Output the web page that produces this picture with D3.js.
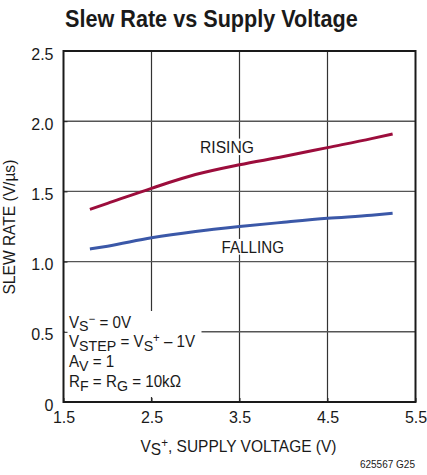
<!DOCTYPE html>
<html><head><meta charset="utf-8">
<script src="https://cdn.jsdelivr.net/npm/d3@7"></script>
<style>
html,body{margin:0;padding:0;background:#fff;}
svg{display:block;}
text{font-family:"Liberation Sans",Arial,sans-serif;fill:#1a1a1a;}
</style></head>
<body>
<svg id="c" width="427" height="475"></svg>
<script>
const voltage = [1.8, 2.0, 2.5, 3.0, 3.5, 4.0, 4.5, 5.0, 5.24];
const rising  = [1.372, 1.415, 1.522, 1.62, 1.69, 1.748, 1.812, 1.876, 1.909];
const falling = [1.09, 1.11, 1.17, 1.215, 1.25, 1.28, 1.308, 1.33, 1.344];
const xTicks = [1.5, 2.5, 3.5, 4.5, 5.5];
const yTicks = [0, 0.5, 1.0, 1.5, 2.0, 2.5];
const yTickLabels = ["0", "0.5", "1.0", "1.5", "2.0", "2.5"];

const svg = d3.select("#c");
const L = 63.5, R = 415.5, T = 51, B = 402;
const x = d3.scaleLinear().domain([1.5, 5.5]).range([L, R]);
const y = d3.scaleLinear().domain([0, 2.5]).range([B, T]);

// fit a text node horizontally to a target width, anchored at its left x
function fitWidth(node, x0, y0, w) {
  const bb = node.getBBox();
  const s = w / bb.width;
  d3.select(node).attr("transform", `translate(${x0},${y0}) scale(${s},1)`);
}

// title
const title = svg.append("text").attr("x", 0).attr("y", 0)
  .style("font-size", "23px").style("font-weight", "bold").text("Slew Rate vs Supply Voltage");
fitWidth(title.node(), 65, 27, 293);

// grid
const g = svg.append("g");
g.selectAll(".vg").data(xTicks.slice(1, -1)).enter().append("line")
  .attr("x1", d => x(d)).attr("x2", d => x(d)).attr("y1", T).attr("y2", B)
  .attr("stroke", "#333").attr("stroke-width", 1.2);
g.selectAll(".hg").data(yTicks.slice(1, -1)).enter().append("line")
  .attr("x1", L).attr("x2", R).attr("y1", d => y(d)).attr("y2", d => y(d))
  .attr("stroke", "#555").attr("stroke-width", 1.4);

// annotation box (white background)
svg.append("rect").attr("x", L + 1).attr("y", 311).attr("width", 137).attr("height", 86).attr("fill", "#fff");

// axes (inward ticks)
const xa = svg.append("g").attr("transform", `translate(0,${B})`)
  .call(d3.axisBottom(x).tickValues(xTicks).tickSize(-4).tickFormat(d3.format(".1f")));
xa.select(".domain").remove();
xa.selectAll("text").style("font-size", "16px").attr("y", 21).attr("dy", "0");
xa.selectAll("line").attr("stroke", "#222");
const ya = svg.append("g").attr("transform", `translate(${L},0)`)
  .call(d3.axisLeft(y).tickValues(yTicks).tickSize(-4).tickFormat((d, i) => yTickLabels[i]));
ya.select(".domain").remove();
ya.selectAll("text").style("font-size", "16px").attr("x", -10).attr("dy", "0.5em");
ya.selectAll("line").attr("stroke", "#222");
svg.selectAll(".tick text").attr("fill", "#1a1a1a").style("font-family", '"Liberation Sans",Arial,sans-serif');

// frame
svg.append("rect").attr("x", L).attr("y", T).attr("width", R - L).attr("height", B - T)
  .attr("fill", "none").attr("stroke", "#1a1a1a").attr("stroke-width", 2);

// curves
const line = d3.line().x(d => x(d[0])).y(d => y(d[1])).curve(d3.curveMonotoneX);
svg.append("path").datum(voltage.map((v, i) => [v, rising[i]]))
  .attr("d", line).attr("fill", "none").attr("stroke", "#9c0d3c").attr("stroke-width", 3);
svg.append("path").datum(voltage.map((v, i) => [v, falling[i]]))
  .attr("d", line).attr("fill", "none").attr("stroke", "#3b58a8").attr("stroke-width", 3);

// curve labels with white backgrounds
function label(tx, ty, s, w) {
  const t = svg.append("text").attr("x", 0).attr("y", 0).style("font-size", "16.5px").text(s);
  fitWidth(t.node(), tx, ty, w);
  const bb = t.node().getBBox();
  svg.insert("rect", () => t.node()).attr("x", tx - 2).attr("y", ty + bb.y + 1).attr("width", w + 4).attr("height", bb.height - 2).attr("fill", "#fff");
}
label(200, 153, "RISING", 54);
label(221.5, 252.5, "FALLING", 62.5);

// annotation text: one text element, one tspan group per line
const ann = svg.append("text").attr("x", 0).attr("y", 0).style("font-size", "16px");
const annLines = [
  [["V"], ["S", "sub"], ["\u2212", "sup"], [" = 0V"]],
  [["V"], ["STEP", "sub"], [" = V"], ["S", "sub"], ["+", "sup"], [" \u2013 1V"]],
  [["A"], ["V", "sub"], [" = 1"]],
  [["R"], ["F", "sub"], [" = R"], ["G", "sub"], [" = 10k\u03A9"]]
];
const annY = [0, 20, 40, 60];
annLines.forEach((parts, li) => {
  let lineY = annY[li];
  parts.forEach((p, pi) => {
    const ts = ann.append("tspan").text(p[0]);
    let off = 0, fs = "16px";
    if (p[1] === "sub") { off = 3.5; fs = "15px"; }
    if (p[1] === "sup") { off = -5; fs = "12px"; }
    ts.attr("y", lineY + off).style("font-size", fs);
    if (pi === 0) ts.attr("x", 0);
  });
});
fitWidth(ann.node(), 69, 327.5, 126.5);

// axis titles
const xt = svg.append("text").attr("x", 0).attr("y", 0).style("font-size", "16px");
xt.append("tspan").text("V");
xt.append("tspan").attr("y", 3).text("S");
xt.append("tspan").attr("y", -5).style("font-size", "12px").text("+");
xt.append("tspan").attr("y", 0).text(", SUPPLY VOLTAGE (V)");
fitWidth(xt.node(), 140.5, 452, 196);

const yt = svg.append("text").attr("x", 0).attr("y", 0).style("font-size", "16px").text("SLEW RATE (V/\u00B5s)");
const ybb = yt.node().getBBox();
yt.attr("transform", `translate(15,${227 + 67.5}) rotate(-90) scale(${135 / ybb.width},1)`);

svg.append("text").attr("x", 415).attr("y", 468).attr("text-anchor", "end")
  .style("font-size", "10px").text("625567 G25");
</script>
</body></html>
